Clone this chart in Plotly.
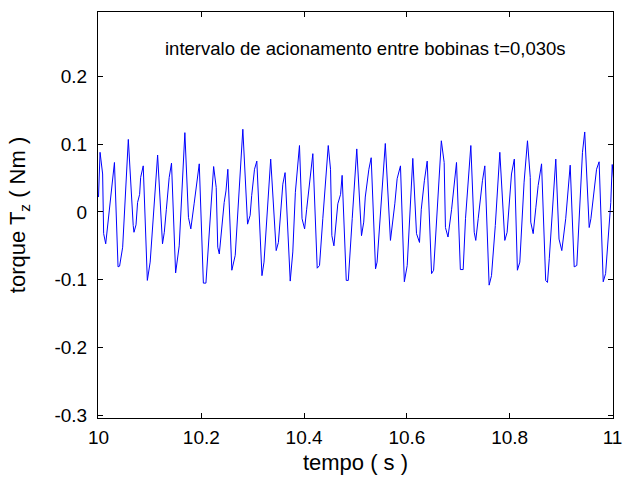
import plotly.graph_objects as go

tempo = [10.000, 10.003, 10.008, 10.010, 10.014, 10.031, 10.038, 10.041, 10.047, 10.058,
         10.0675, 10.069, 10.073, 10.076, 10.080, 10.082, 10.087, 10.095, 10.1005, 10.115,
         10.1245, 10.128, 10.132, 10.1375, 10.142, 10.150, 10.157, 10.168, 10.175, 10.1796,
         10.186, 10.191, 10.196, 10.204, 10.209, 10.224, 10.229, 10.232, 10.235, 10.2445,
         10.248, 10.2516, 10.2594, 10.266, 10.2808, 10.290, 10.295, 10.298, 10.3035, 10.308,
         10.318, 10.322, 10.335, 10.3457, 10.350, 10.3586, 10.363, 10.373, 10.378, 10.383,
         10.391, 10.396, 10.401, 10.405, 10.4105, 10.417, 10.4255, 10.430, 10.4364, 10.447,
         10.4514, 10.454, 10.458, 10.4656, 10.471, 10.474, 10.482, 10.486, 10.4936, 10.5025,
         10.5117, 10.516, 10.519, 10.526, 10.5305, 10.539, 10.542, 10.5506, 10.558, 10.568,
         10.571, 10.5765, 10.581, 10.5875, 10.595, 10.6006, 10.6115, 10.6187, 10.6245, 10.628,
         10.634, 10.6395, 10.648, 10.652, 10.667, 10.6725, 10.675, 10.680, 10.687, 10.6965,
         10.704, 10.7095, 10.714, 10.7244, 10.731, 10.734, 10.7387, 10.742, 10.747, 10.7516,
         10.760, 10.7646, 10.772, 10.7808, 10.7905, 10.795, 10.8035, 10.809, 10.815, 10.8197,
         10.828, 10.8346, 10.840, 10.841, 10.8457, 10.851, 10.8554, 10.862, 10.870, 10.8735,
         10.877, 10.8897, 10.896, 10.9014, 10.909, 10.9177, 10.9255, 10.9306, 10.9416, 10.946,
         10.9547, 10.958, 10.9625, 10.969, 10.974, 10.982, 10.9866, 10.991, 10.9967, 10.9995,
         11.002]

torque = [0.022, 0.088, 0.056, -0.032, -0.047, 0.073, -0.081, -0.080, -0.052, 0.107,
          -0.020, -0.030, -0.019, 0.014, 0.026, 0.051, 0.068, -0.101, -0.074, 0.084,
          -0.047, -0.030, 0.004, 0.051, 0.072, -0.090, -0.050, 0.117, -0.008, -0.025,
          0.012, 0.044, 0.071, -0.105, -0.105, 0.067, 0.036, -0.052, -0.062, 0.014,
          0.031, 0.063, -0.086, -0.064, 0.122, -0.018, -0.005, 0.024, 0.063, 0.075,
          -0.094, -0.074, 0.078, -0.057, -0.045, 0.041, 0.058, -0.102, -0.059, 0.029,
          0.098, -0.010, -0.025, 0.004, 0.044, 0.086, -0.083, -0.079, -0.010, 0.098,
          0.063, -0.035, -0.050, 0.012, 0.026, 0.054, -0.101, -0.101, -0.010, 0.093,
          -0.035, -0.015, 0.022, 0.063, 0.080, -0.084, -0.074, 0.029, 0.101, -0.042,
          -0.025, 0.012, 0.049, 0.068, -0.103, -0.079, 0.079, -0.032, -0.045, 0.004,
          0.046, 0.075, -0.091, -0.086, 0.105, 0.073, -0.023, -0.037, 0.004, 0.073,
          -0.085, -0.085, -0.010, 0.098, -0.030, -0.042, -0.010, 0.014, 0.046, 0.068,
          -0.108, -0.094, -0.020, 0.088, -0.042, -0.030, 0.056, 0.078, -0.086, -0.074,
          0.044, 0.105, 0.051, -0.015, -0.032, 0.007, 0.039, 0.071, -0.101, -0.104,
          -0.069, 0.078, -0.040, -0.057, -0.010, 0.069, -0.081, -0.079, 0.088, 0.118,
          -0.023, -0.010, 0.019, 0.063, 0.074, -0.103, -0.091, -0.045, 0.014, 0.070,
          0.050]

x_ticks = [10, 10.2, 10.4, 10.6, 10.8, 11]
x_tick_labels = ["10", "10.2", "10.4", "10.6", "10.8", "11"]
y_ticks = [-0.3, -0.2, -0.1, 0, 0.1, 0.2]
y_tick_labels = ["-0.3", "-0.2", "-0.1", "0", "0.1", "0.2"]

titulo = "intervalo de acionamento entre bobinas t=0,030s"

FONT = "Liberation Sans, Arial, sans-serif"

fig = go.Figure()
fig.add_trace(go.Scatter(x=tempo, y=torque, mode="lines",
                         line=dict(color="#0000FF", width=1), showlegend=False))

fig.update_layout(
    width=635, height=479,
    margin=dict(l=98, r=22, t=12, b=61, autoexpand=False),
    paper_bgcolor="white", plot_bgcolor="white",
    font=dict(family=FONT, color="black", size=17),
    annotations=[dict(text=titulo, x=0.519, y=0.911, xref="paper", yref="paper",
                      showarrow=False, xanchor="center", yanchor="middle",
                      font=dict(family=FONT, size=18.5, color="black"))],
)
fig.update_xaxes(range=[9.999, 11.001], tickvals=x_ticks, ticktext=x_tick_labels,
                 ticks="inside", ticklen=5, tickcolor="black",
                 showline=True, linecolor="black", linewidth=1, mirror="ticks",
                 showgrid=False, zeroline=False, automargin=False,
                 title=dict(text="tempo ( s )", font=dict(size=22), standoff=7),
                 tickfont=dict(size=19), ticklabelstandoff=2)
fig.update_yaxes(range=[-0.304, 0.295], tickvals=y_ticks, ticktext=y_tick_labels,
                 ticks="inside", ticklen=5, tickcolor="black",
                 showline=True, linecolor="black", linewidth=1, mirror="ticks",
                 showgrid=False, zeroline=False, automargin=False,
                 title=dict(text="torque T<sub>z</sub> ( Nm )", font=dict(size=22), standoff=22),
                 tickfont=dict(size=19), ticklabelstandoff=6)

fig.write_html("out.html", config={"displayModeBar": False},
               post_script="document.body.style.margin='0px';")
